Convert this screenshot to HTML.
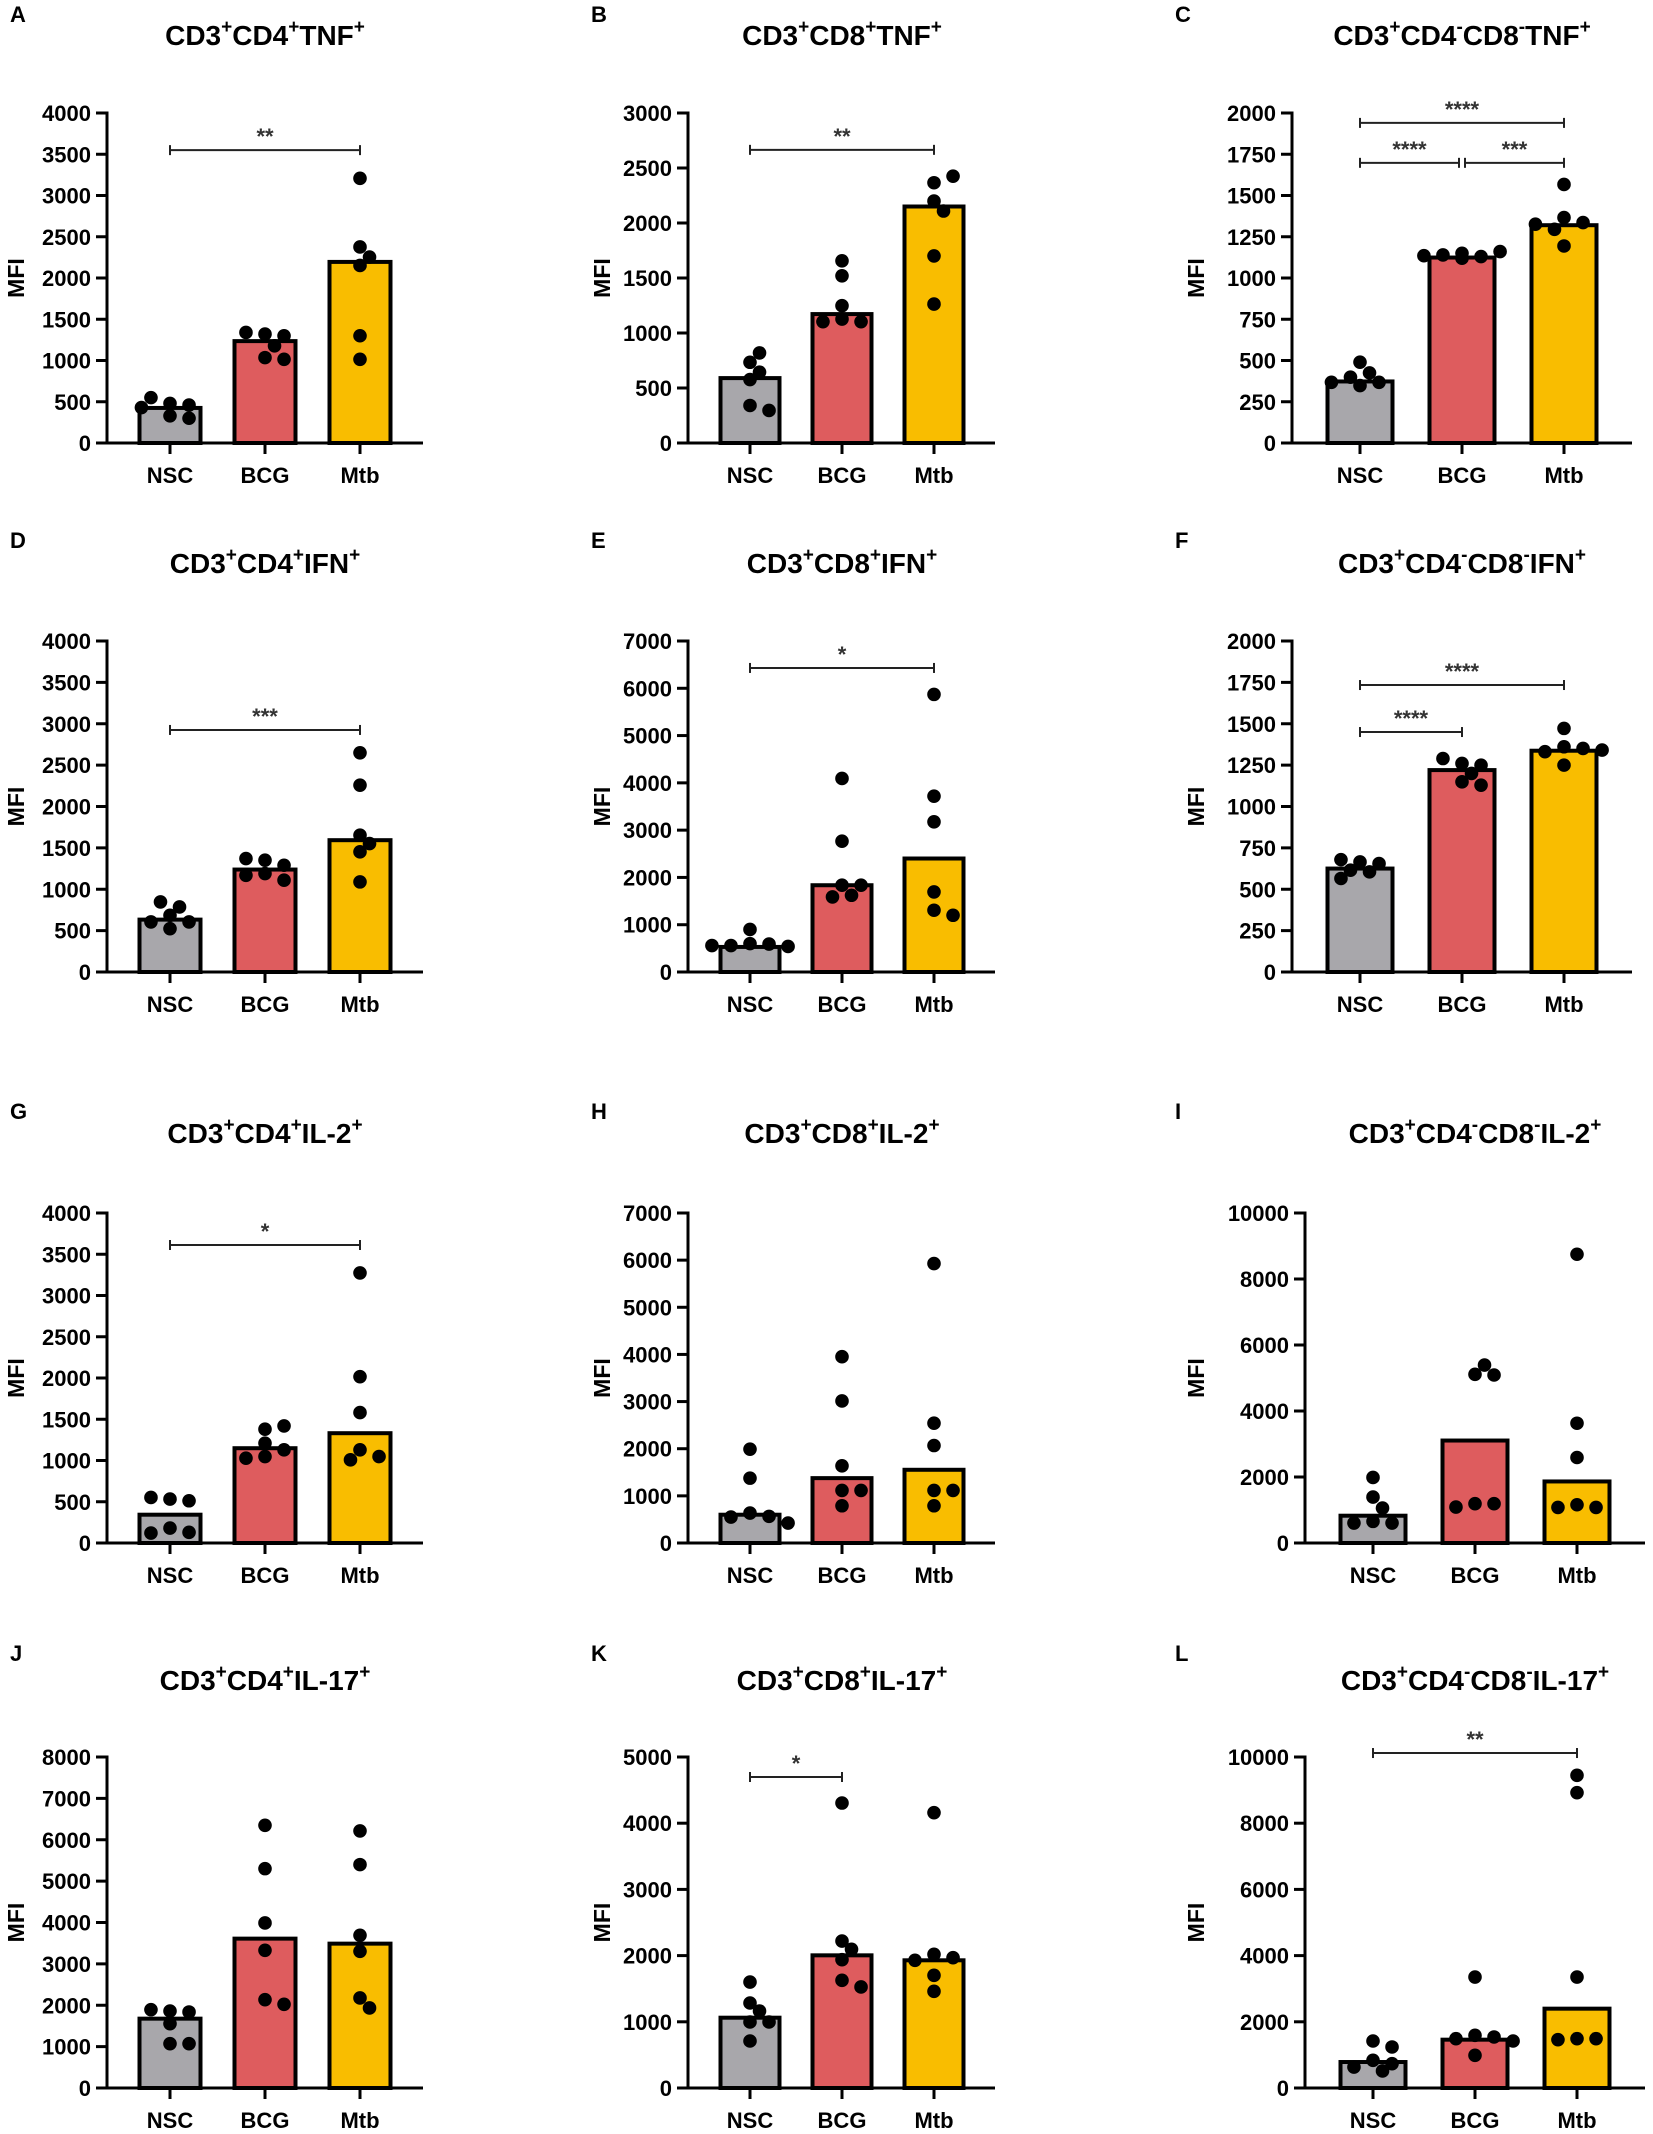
<!DOCTYPE html>
<html><head><meta charset="utf-8">
<style>
html,body{margin:0;padding:0;background:#fff;}
svg{display:block;font-family:"Liberation Sans",Arial,sans-serif;}
</style></head>
<body>
<svg id="fig" width="1653" height="2134" viewBox="0 0 1653 2134" xmlns="http://www.w3.org/2000/svg"></svg>
<script>
// ---- data ----
const groups = ["NSC","BCG","Mtb"];
const panelLetters = ["A","B","C","D","E","F","G","H","I","J","K","L"];
const titles = [
 [["CD3","+"],["CD4","+"],["TNF","+"]],
 [["CD3","+"],["CD8","+"],["TNF","+"]],
 [["CD3","+"],["CD4","-"],["CD8","-"],["TNF","+"]],
 [["CD3","+"],["CD4","+"],["IFN","+"]],
 [["CD3","+"],["CD8","+"],["IFN","+"]],
 [["CD3","+"],["CD4","-"],["CD8","-"],["IFN","+"]],
 [["CD3","+"],["CD4","+"],["IL-2","+"]],
 [["CD3","+"],["CD8","+"],["IL-2","+"]],
 [["CD3","+"],["CD4","-"],["CD8","-"],["IL-2","+"]],
 [["CD3","+"],["CD4","+"],["IL-17","+"]],
 [["CD3","+"],["CD8","+"],["IL-17","+"]],
 [["CD3","+"],["CD4","-"],["CD8","-"],["IL-17","+"]]
];
const yMax = [4000,3000,2000,4000,7000,2000,4000,7000,10000,8000,5000,10000];
const yStep = [500,500,250,500,1000,250,500,1000,2000,1000,1000,2000];
const barMeans = [
 [425,1235,2195],[590,1172,2150],[373,1124,1320],
 [633,1238,1593],[530,1835,2400],[625,1220,1337],
 [343,1149,1331],[600,1376,1553],[827,3105,1865],
 [1676,3610,3489],[1062,2004,1929],[785,1460,2397]
];
const pointsNSC = [
 [480,460,550,430,330,300],[734,819,644,577,341,296],[490,425,399,368,368,348],
 [685,786,847,605,605,524],[600,590,560,900,540,560],[665,655,615,679,605,565],
 [532,512,552,181,129,121],[1990,1376,635,565,550,423],[1986,1391,1058,655,605,605],
 [1861,1837,1894,1555,1072,1072],[1601,1284,1163,997,997,710],[1420,1239,836,735,634,514]
];
const pointsBCG = [
 [1320,1178,1300,1035,1340,1015],[1248,1127,1103,1103,1520,1656],[1150,1130,1140,1160,1135,1120],
 [1351,1290,1371,1190,1169,1109],[1835,1835,1623,1588,2766,4093],[1260,1250,1290,1200,1149,1129],
 [1210,1129,1379,1048,1419,1028],[3952,3013,1637,1115,1115,790],[5111,5091,5393,1190,1190,1089],
 [6350,5302,3989,3328,2135,2023],[4305,2220,2095,1939,1626,1526],[3353,1591,1541,1490,1420,987]
];
const pointsMtb = [
 [3208,2376,2254,2152,1300,1015],[2366,2199,2426,2109,1701,1263],[1567,1366,1336,1295,1326,1194],
 [2649,2258,1653,1552,1452,1089],[5871,3719,3176,1694,1306,1200],[1472,1361,1351,1331,1341,1250],
 [3274,2016,1581,1129,1048,1008],[5928,2541,2068,1115,1115,790],[8750,3629,2591,1159,1079,1079],
 [6213,5399,3691,3304,2176,1934],[4159,2019,1969,1929,1702,1460],[9446,8923,3353,1490,1490,1460]
];
// significance brackets: [panel, fromGroup, toGroup, value, label]
const sigBrackets = [
 [0,0,2,3550,"**"],[1,0,2,2665,"**"],
 [2,0,2,1940,"****"],[2,0,1,1698,"****"],[2,1,2,1698,"***"],
 [3,0,2,2925,"***"],[4,0,2,6430,"*"],
 [5,0,2,1734,"****"],[5,0,1,1450,"****"],
 [6,0,2,3612,"*"],[10,0,1,4698,"*"],[11,0,2,10120,"**"]
];
// ---- layout ----
const colAxisX = [107,688,1292];
const colFirstOffset = [63,62,68];
const colSpacing = [95,92,102];
const colEndOffset = [316,307,340];
const rowTop = [113,641,1213,1757];
const rowZero = [443,972,1543,2088];
const rowTitleBase = [45,573,1143,1690];
const rowLetterBase = [22,548,1119,1661];
const colLetterX = [10,591,1175];
const colMfiX = [16,602,1196];
const fills = ["#a8a7ab","#de5c5e","#f9bd00"];
const NS = "http://www.w3.org/2000/svg";
const svg = document.getElementById("fig");
function mk(tag, attrs, parent){
  const e = document.createElementNS(NS, tag);
  for (const k in attrs) e.setAttribute(k, attrs[k]);
  (parent||svg).appendChild(e);
  return e;
}
for (let p=0;p<12;p++){
  const row = Math.floor(p/3), col = p%3;
  const wide = yMax[p] >= 10000 && col===2;
  const ax = colAxisX[col] + (wide?13:0);
  const top = rowTop[row], zero = rowZero[row];
  const y = v => zero - (v/yMax[p])*(zero-top);
  const cx = i => ax + colFirstOffset[col] + i*colSpacing[col];
  const bw = Math.round(colSpacing[col]*0.64);
  const g = mk("g",{});
  
  
  // letter
  const lt = mk("text",{x:colLetterX[col],y:rowLetterBase[row],"font-size":22,"font-weight":"bold",fill:"#000"},g);
  lt.textContent = panelLetters[p];
  
  
  // title
  const tt = mk("text",{x:cx(1),y:rowTitleBase[row],"font-size":28,"font-weight":"bold","text-anchor":"middle",fill:"#000"},g);
  
  
  titles[p].forEach(part=>{
    const a = mk("tspan",{},tt); a.textContent = part[0];
    const b = mk("tspan",{"font-size":19,dy:-12},tt); b.textContent = part[1]==="-"?"-":"+";
    const c = mk("tspan",{dy:12,"font-size":1},tt); c.textContent = "\u200b";
  });
  // bars
  const allPts = [pointsNSC[p],pointsBCG[p],pointsMtb[p]];
  for (let i=0;i<3;i++){
    const yt = y(barMeans[p][i]);
    const r = mk("rect",{x:cx(i)-bw/2,y:yt,width:bw,height:zero-yt,fill:fills[i],stroke:"#000","stroke-width":4},g);
    
    
  }
  // points (beeswarm)
  for (let i=0;i<3;i++){
    const placed=[];
    const rr=6.8;
    allPts[i].forEach(v=>{
      const py=y(v);
      let off=0;
      const cands=[0];
      for(let k=1;k<6;k++){cands.push(k*rr*1.4);cands.push(-k*rr*1.4);}
      for(const c of cands){
        if(placed.every(q=>Math.hypot(q[0]-c,q[1]-py)>=rr*1.75)){off=c;break;}
      }
      placed.push([off,py]);
      const d = mk("circle",{cx:cx(i)+off,cy:py,r:rr,fill:"#000"},g);
      
      
    });
  }
  // axes
  const yAxis = mk("line",{x1:ax,y1:top-1.5,x2:ax,y2:zero,stroke:"#000","stroke-width":3},g);
  
  
  const xAxis = mk("line",{x1:ax-11,y1:zero,x2:ax+colEndOffset[col],y2:zero,stroke:"#000","stroke-width":3},g);
  
  
  for (let v=0; v<=yMax[p]; v+=yStep[p]){
    const ty=y(v);
    mk("line",{x1:ax-11,y1:ty,x2:ax,y2:ty,stroke:"#000","stroke-width":3},g);
    const tl = mk("text",{x:ax-16,y:ty+8,"font-size":22,"font-weight":"bold","text-anchor":"end",fill:"#000"},g);
    tl.textContent = String(v);
    
    
  }
  for (let i=0;i<3;i++){
    mk("line",{x1:cx(i),y1:zero,x2:cx(i),y2:zero+11,stroke:"#000","stroke-width":3},g);
    const xl = mk("text",{x:cx(i),y:zero+40,"font-size":22,"font-weight":"bold","text-anchor":"middle",fill:"#000"},g);
    xl.textContent = groups[i];
    
    
  }
  const my=(top+zero)/2;
  const mfi = mk("text",{x:colMfiX[col]+8,y:my,"font-size":23,"font-weight":"bold","text-anchor":"middle",fill:"#000",transform:"rotate(-90 "+(colMfiX[col]+8)+" "+my+")"},g);
  mfi.textContent="MFI";
  
  
  // brackets
  sigBrackets.filter(b=>b[0]===p).forEach(b=>{
    const by=y(b[3]);
    let x1=cx(b[1]), x2=cx(b[2]);
    const adj = sigBrackets.some(o=>o!==b&&o[0]===p&&o[3]===b[3]);
    if(adj){ if(b[1]===1) x1+=3; else x2-=3; }
    const bg = mk("g",{stroke:"#222","stroke-width":2},g);
    
    
    mk("line",{x1:x1,y1:by,x2:x2,y2:by},bg);
    mk("line",{x1:x1,y1:by-5,x2:x1,y2:by+5},bg);
    mk("line",{x1:x2,y1:by-5,x2:x2,y2:by+5},bg);
    const st = mk("text",{x:(x1+x2)/2,y:by-6,"font-size":22,"font-weight":"bold","text-anchor":"middle",fill:"#333"},g);
    st.textContent=b[4];
    
    
  });
}
</script>
</body></html>
